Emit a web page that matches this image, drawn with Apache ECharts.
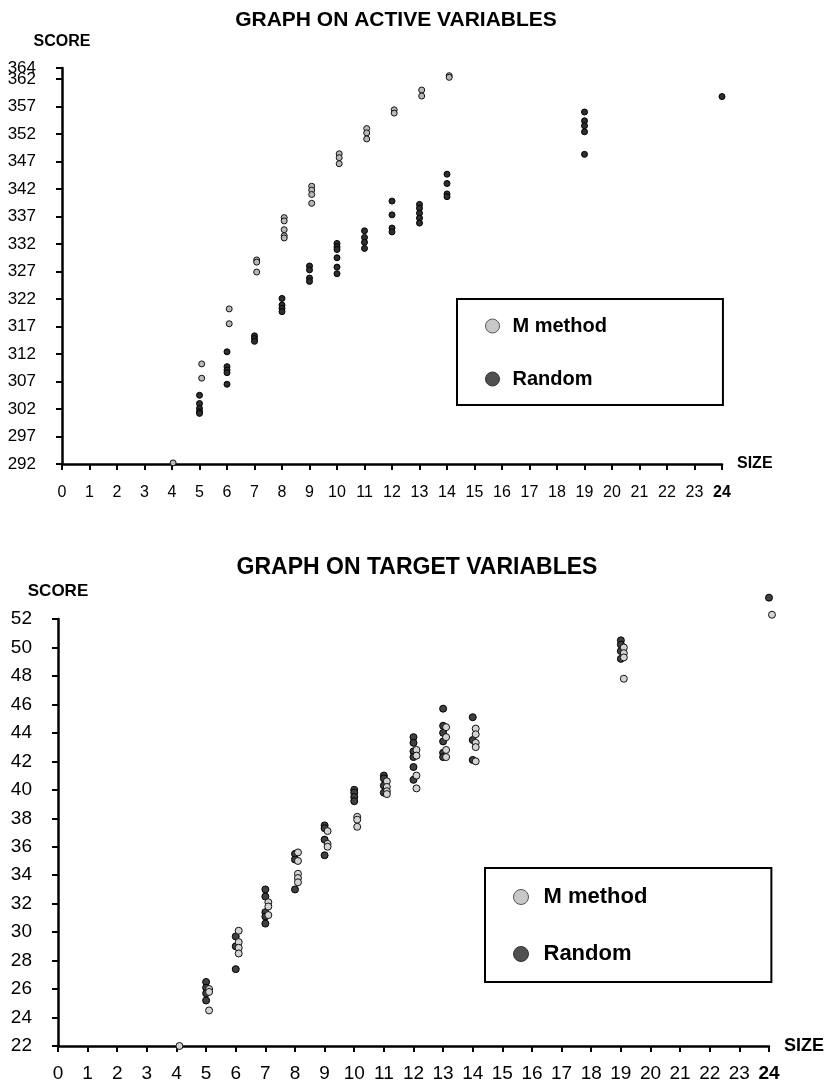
<!DOCTYPE html>
<html><head><meta charset="utf-8">
<script src="https://cdn.jsdelivr.net/npm/echarts@6/dist/echarts.min.js"></script>
<style>html,body{margin:0;padding:0;background:#fff}#c{width:825px;height:1084px}</style>
</head><body><div id="c"></div><script>
// ---------- Chart 1: GRAPH ON ACTIVE VARIABLES ----------
const activeMSize  = [4.04, 5.08,5.08, 6.08,6.08, 7.08,7.08,7.08, 8.08,8.08,8.08,8.08,8.08, 9.08,9.08,9.08,9.08, 10.08,10.08,10.08, 11.08,11.08,11.08, 12.08,12.08, 13.08,13.08, 14.08,14.08];
const activeMScore = [292.2, 310.2,307.6, 320.2,317.5, 329.1,328.7,326.9, 336.8,336.2,334.6,333.5,333.1, 342.5,341.8,341.0,339.4, 348.4,347.7,346.6, 353.0,352.2,351.1, 356.4,355.8, 360.0,358.9, 362.6,362.3];
const activeRSize  = [5,5,5,5,5, 6,6,6,6,6, 7,7,7, 8,8,8,8, 9,9,9,9, 10,10,10,10,10,10, 11,11,11,11, 12,12,12,12, 13,13,13,13,13, 14,14,14,14, 19,19,19,19,19, 24];
const activeRScore = [304.5,303.0,302.1,301.5,301.2, 312.4,309.7,309.1,308.6,306.5, 315.3,314.8,314.3, 322.1,320.9,320.3,319.7, 328.0,327.3,325.8,325.2, 332.1,331.5,331.0,329.5,327.8,326.6, 334.4,333.2,332.3,331.2, 339.8,337.3,334.9,334.2, 339.2,338.5,337.6,336.7,335.8, 344.7,343.0,341.1,340.6, 356.0,354.4,353.5,352.4,348.3, 358.8];
const activeScoreTicks = [292, 297, 302, 307, 312, 317, 322, 327, 332, 337, 342, 347, 352, 357, 362];
const activeScoreTopTick = [364];

// ---------- Chart 2: GRAPH ON TARGET VARIABLES ----------
const targetMSize  = [4.1, 5.1,5.1,5.1, 6.1,6.1,6.1,6.1, 7.1,7.1,7.1, 8.1,8.1,8.1,8.1,8.1, 9.1,9.1,9.1, 10.1,10.1,10.1, 11.1,11.1,11.1,11.1, 12.1,12.1,12.1,12.1, 13.1,13.1,13.1,13.1, 14.1,14.1,14.1,14.1,14.1, 19.1,19.1,19.1,19.1, 24.1];
const targetMScore = [22.0, 26.0,25.8,24.5, 30.1,29.3,28.9,28.5, 32.1,31.8,31.2, 35.6,35.0,34.1,33.8,33.5, 37.1,36.2,36.0, 38.1,37.9,37.4, 40.6,40.2,39.9,39.7, 42.8,42.4,41.0,40.1, 44.4,43.7,42.8,42.3, 44.3,43.9,43.3,43.0,42.0, 50.0,49.6,49.3,47.8, 52.3];
const targetRSize  = [5,5,5,5, 6,6,6, 7,7,7,7,7, 8,8,8, 9,9,9,9, 10,10,10,10, 11,11,11,11, 12,12,12,12,12,12, 13,13,13,13,13,13, 14,14,14, 19,19,19,19, 24];
const targetRScore = [26.5,26.1,25.7,25.2, 29.7,29.0,27.4, 33.0,32.5,31.4,31.1,30.6, 35.5,35.1,33.0, 37.5,37.3,36.5,35.4, 40.0,39.8,39.5,39.2, 41.0,40.8,40.3,39.8, 43.7,43.3,42.7,42.3,41.6,40.7, 45.7,44.5,44.0,43.4,42.6,42.3, 45.1,43.5,42.1, 50.5,50.2,49.75,49.2, 53.5];

const seriesNames = ['M method', 'Random'];
const titles = ['GRAPH ON ACTIVE VARIABLES', 'GRAPH ON TARGET VARIABLES'];
const yName = 'SCORE', xName = 'SIZE';

const zip = (xs, ys) => xs.map((x, i) => [x, ys[i]]);
const F = 'Liberation Sans, Arial, sans-serif';

function xLabel(size, margin) {
  return {
    fontFamily: F, fontSize: size, color: '#000', margin: margin,
    showMinLabel: true, showMaxLabel: true,
    formatter: v => v === 24 ? '{b|24}' : String(v),
    rich: { b: { fontFamily: F, fontSize: size, fontWeight: 'bold', color: '#000' } }
  };
}
const axisLine = { show: true, onZero: false, lineStyle: { color: '#000', width: 2.5 } };
const axisTick = { show: true, length: 6, lineStyle: { color: '#000', width: 2 } };
const topYLabel = { fontFamily: F, fontSize: 17, color: '#000', margin: 26, showMinLabel: true, showMaxLabel: true };

const chart = echarts.init(document.getElementById('c'), null, { renderer: 'canvas' });
chart.setOption({
  animation: false,
  backgroundColor: '#fff',
  title: [
    { text: titles[0], left: 391, top: 5, textAlign: 'center',
      textStyle: { fontFamily: F, fontSize: 21, fontWeight: 'bold', color: '#000' } },
    { text: titles[1], left: 412, top: 551, textAlign: 'center',
      textStyle: { fontFamily: F, fontSize: 23, fontWeight: 'bold', color: '#000' } }
  ],
  grid: [
    { left: 62, top: 68, width: 660, height: 396 },
    { left: 58, top: 619, width: 712, height: 427 }
  ],
  xAxis: [
    { type: 'value', gridIndex: 0, min: 0, max: 24, interval: 1,
      name: xName, nameLocation: 'end', nameGap: 15,
      nameTextStyle: { fontFamily: F, fontSize: 16, fontWeight: 'bold', color: '#000' },
      axisLine, axisTick, splitLine: { show: false }, axisLabel: xLabel(16, 21) },
    { type: 'value', gridIndex: 1, min: 0, max: 24, interval: 1,
      name: xName, nameLocation: 'end', nameGap: 15,
      nameTextStyle: { fontFamily: F, fontSize: 18, fontWeight: 'bold', color: '#000' },
      axisLine, axisTick, splitLine: { show: false }, axisLabel: xLabel(19, 18) }
  ],
  yAxis: [
    { type: 'value', gridIndex: 0, min: 292, max: 364, interval: 5,
      name: yName, nameLocation: 'end', nameGap: 18,
      nameTextStyle: { fontFamily: F, fontSize: 16, fontWeight: 'bold', color: '#000' },
      axisLine, splitLine: { show: false },
      axisTick: Object.assign({}, axisTick, { customValues: activeScoreTicks }),
      axisLabel: Object.assign({}, topYLabel, { customValues: activeScoreTicks }) },
    { type: 'value', gridIndex: 1, min: 22, max: 52, interval: 2,
      name: yName, nameLocation: 'end', nameGap: 19,
      nameTextStyle: { fontFamily: F, fontSize: 17, fontWeight: 'bold', color: '#000' },
      axisLine, axisTick, splitLine: { show: false },
      axisLabel: { fontFamily: F, fontSize: 19, color: '#000', margin: 26, showMinLabel: true, showMaxLabel: true } },
    { type: 'value', gridIndex: 0, position: 'left', min: 292, max: 364, interval: 5,
      axisLine: { show: false }, splitLine: { show: false },
      axisTick: Object.assign({}, axisTick, { customValues: activeScoreTopTick }),
      axisLabel: Object.assign({}, topYLabel, { customValues: activeScoreTopTick }) }
  ],
  legend: [
    { orient: 'vertical', left: 457, top: 299, selectedMode: false,
      borderColor: '#000', borderWidth: 2, padding: [17, 116, 16, 28],
      itemWidth: 14, itemHeight: 14, itemGap: 33, icon: 'circle',
      textStyle: { fontFamily: F, fontSize: 20, fontWeight: 'bold', color: '#000', padding: [0, 0, 0, 8] },
      data: [
        { name: seriesNames[0], itemStyle: { color: '#c8c8c8', borderColor: '#555', borderWidth: 1 } },
        { name: seriesNames[1], itemStyle: { color: '#505050', borderColor: '#333', borderWidth: 1 } }
      ] },
    { orient: 'vertical', left: 485, top: 868, selectedMode: false,
      borderColor: '#000', borderWidth: 2, padding: [18, 124, 17, 28],
      itemWidth: 15, itemHeight: 15, itemGap: 35, icon: 'circle',
      textStyle: { fontFamily: F, fontSize: 22, fontWeight: 'bold', color: '#000', padding: [0, 0, 0, 10] },
      data: [
        { name: seriesNames[0], itemStyle: { color: '#c8c8c8', borderColor: '#555', borderWidth: 1 } },
        { name: seriesNames[1], itemStyle: { color: '#505050', borderColor: '#333', borderWidth: 1 } }
      ] }
  ],
  series: [
    { type: 'scatter', name: seriesNames[1], xAxisIndex: 0, yAxisIndex: 0, clip: false,
      symbolSize: 6, itemStyle: { color: '#2e2e2e', borderColor: '#000', borderWidth: 1, opacity: 1 },
      data: zip(activeRSize, activeRScore) },
    { type: 'scatter', name: seriesNames[0], xAxisIndex: 0, yAxisIndex: 0, clip: false,
      symbolSize: 6, itemStyle: { color: '#b8b8b8', borderColor: '#111', borderWidth: 1, opacity: 1 },
      data: zip(activeMSize, activeMScore) },
    { type: 'scatter', name: seriesNames[1], xAxisIndex: 1, yAxisIndex: 1, clip: false,
      symbolSize: 7, itemStyle: { color: '#404040', borderColor: '#000', borderWidth: 1, opacity: 1 },
      data: zip(targetRSize, targetRScore) },
    { type: 'scatter', name: seriesNames[0], xAxisIndex: 1, yAxisIndex: 1, clip: false,
      symbolSize: 7, itemStyle: { color: '#d4d4d4', borderColor: '#111', borderWidth: 1, opacity: 1 },
      data: zip(targetMSize, targetMScore) }
  ]
});
</script></body></html>
